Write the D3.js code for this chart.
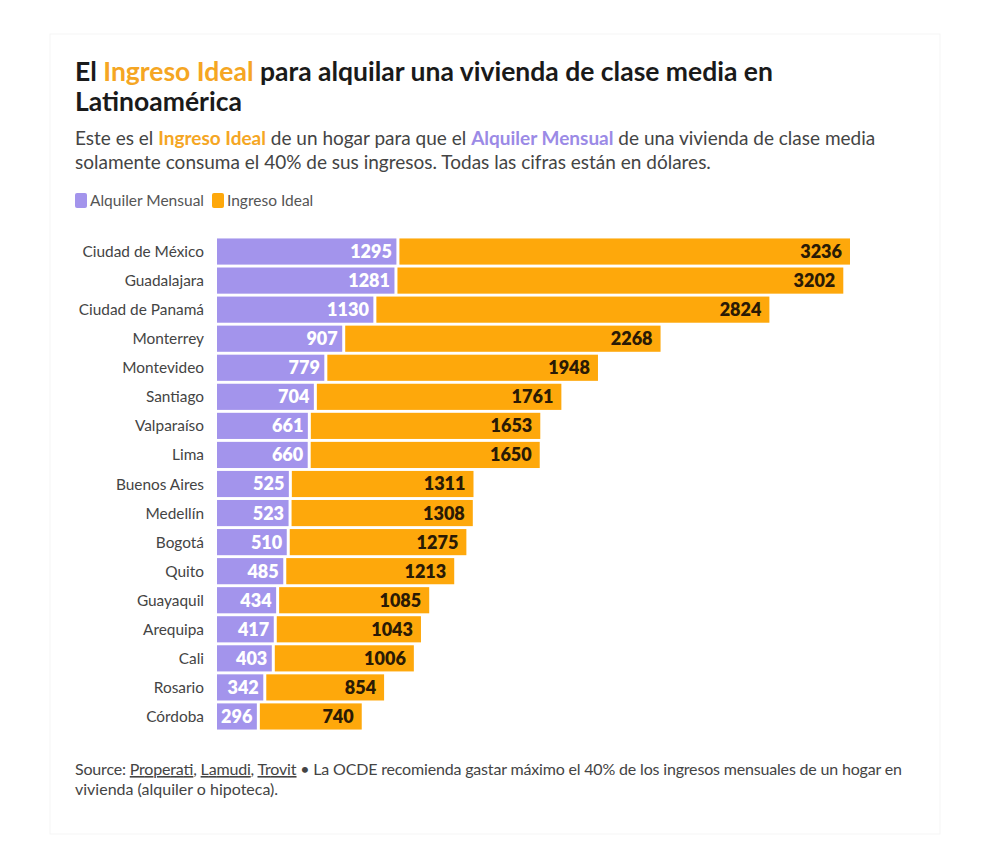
<!DOCTYPE html>
<html><head><meta charset="utf-8">
<script src="https://cdn.jsdelivr.net/npm/d3@7"></script>
<style>
body{margin:0;background:#fff;}
svg{font-family:Lato,"Open Sans",sans-serif;}
</style></head>
<body><svg id="c" width="992" height="850"></svg>
<script>
const cities = ["Ciudad de México","Guadalajara","Ciudad de Panamá","Monterrey","Montevideo","Santiago","Valparaíso","Lima","Buenos Aires","Medellín","Bogotá","Quito","Guayaquil","Arequipa","Cali","Rosario","Córdoba"];
const alquiler = [1295,1281,1130,907,779,704,661,660,525,523,510,485,434,417,403,342,296];
const ingreso = [3236,3202,2824,2268,1948,1761,1653,1650,1311,1308,1275,1213,1085,1043,1006,854,740];
const seriesNames = ["Alquiler Mensual","Ingreso Ideal"];
const colors = ["#a394ec","#fea80b"];

const svg = d3.select("#c");
// faint card edge
svg.append("rect").attr("x",50).attr("y",34).attr("width",890).attr("height",800).attr("fill","none").attr("stroke","#f5f5f5").attr("stroke-width",1);

// Title
const t = svg.append("text").attr("x",75).attr("y",81).attr("font-size",26.5).attr("font-weight",700).attr("fill","#1a1a1a");
t.append("tspan").text("El ");
t.append("tspan").attr("fill","#f5a623").text("Ingreso Ideal");
t.append("tspan").text(" para alquilar una vivienda de clase media en");
svg.append("text").attr("x",75).attr("y",111).attr("font-size",26.5).attr("font-weight",700).attr("fill","#1a1a1a").text("Latinoamérica");

const s = svg.append("text").attr("x",75).attr("y",145).attr("font-size",19).attr("fill","#444");
s.append("tspan").text("Este es el ");
s.append("tspan").attr("fill","#f5a623").attr("font-weight",700).text("Ingreso Ideal");
s.append("tspan").text(" de un hogar para que el ");
s.append("tspan").attr("fill","#9b8ae6").attr("font-weight",700).text("Alquiler Mensual");
s.append("tspan").text(" de una vivienda de clase media");
svg.append("text").attr("x",75).attr("y",169).attr("font-size",19).attr("fill","#444").text("solamente consuma el 40% de sus ingresos. Todas las cifras están en dólares.");

// Legend
const lg = svg.append("g").attr("transform","translate(75,193)");
let lx = 0;
seriesNames.forEach((n,i)=>{
  lg.append("rect").attr("x",lx).attr("y",0).attr("width",12).attr("height",15).attr("rx",2).attr("fill",colors[i]);
  const tx = lg.append("text").attr("x",lx+15).attr("y",13).attr("font-size",15.5).attr("fill","#555").text(n);
  lx += 15 + tx.node().getComputedTextLength() + 8;
});

// Chart
const x0 = 217, x1 = 850;
const x = d3.scaleLinear().domain([0, d3.max(cities.map((c,i)=>alquiler[i]+ingreso[i]))]).range([x0,x1]);
const y = d3.scaleBand().domain(cities).range([237,731]).paddingInner(0.1).paddingOuter(0.05);

const data = cities.map((c,i)=>({city:c,a:alquiler[i],b:ingreso[i]}));
const stack = d3.stack().keys(["a","b"])(data);

stack.forEach((layer,li)=>{
  const g = svg.append("g");
  g.selectAll("rect").data(layer).join("rect")
    .attr("x",d=>x(d[0]) + (li===1?1.5:0))
    .attr("y",d=>y(d.data.city))
    .attr("width",d=>x(d[1])-x(d[0]) - 1.5)
    .attr("height",y.bandwidth())
    .attr("fill",colors[li]);
  g.selectAll("text").data(layer).join("text")
    .attr("x",d=>x(d[1]) - (li===0?6:8))
    .attr("y",d=>y(d.data.city)+y.bandwidth()/2)
    .attr("dy","0.36em")
    .attr("text-anchor","end")
    .attr("font-size",18)
    .attr("font-weight",800)
    .attr("fill",li===0?"#fff":"#2a1a05")
    .text(d=>d[1]-d[0]);
});

// category labels
svg.append("g").selectAll("text").data(cities).join("text")
  .attr("x",204).attr("y",d=>y(d)+y.bandwidth()/2).attr("dy","0.36em")
  .attr("text-anchor","end").attr("font-size",15.4).attr("fill","#444").text(d=>d);

// Footer
const f = svg.append("text").attr("x",75).attr("y",775).attr("font-size",16).attr("fill","#444");
f.append("tspan").text("Source: ");
f.append("tspan").attr("text-decoration","underline").text("Properati");
f.append("tspan").text(", ");
f.append("tspan").attr("text-decoration","underline").text("Lamudi");
f.append("tspan").text(", ");
f.append("tspan").attr("text-decoration","underline").text("Trovit");
f.append("tspan").text(" • La OCDE recomienda gastar máximo el 40% de los ingresos mensuales de un hogar en");
f.attr("textLength",827).attr("lengthAdjust","spacing");
svg.append("text").attr("x",75).attr("y",795).attr("font-size",16).attr("fill","#444").text("vivienda (alquiler o hipoteca).");
</script></body></html>
